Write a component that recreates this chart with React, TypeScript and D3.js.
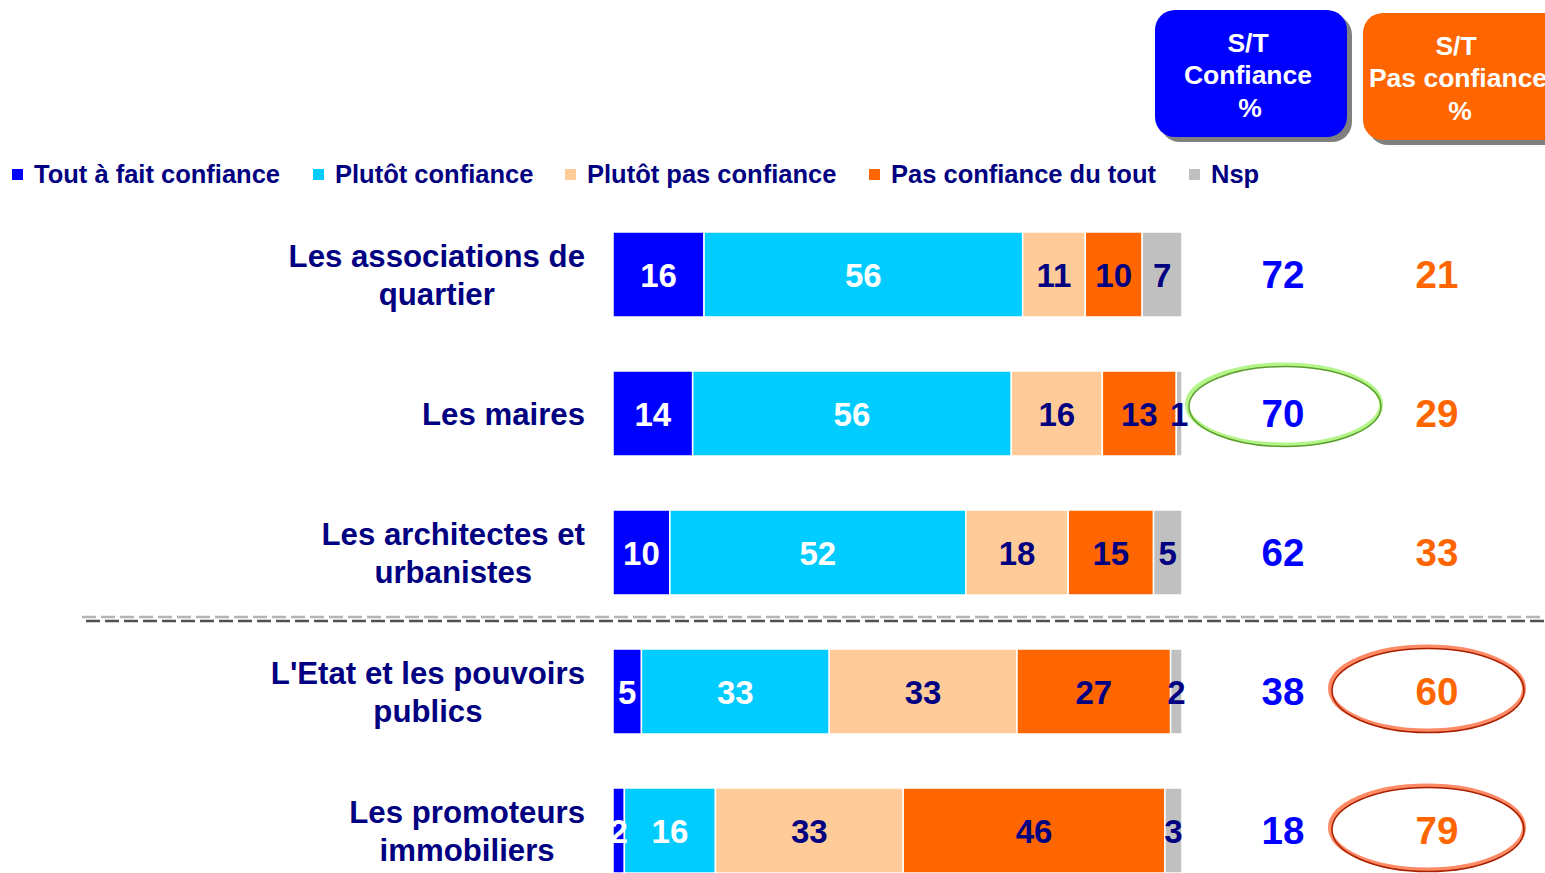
import * as d3 from 'd3'

const categories = [
  ['Les associations de', 'quartier'],
  ['Les maires'],
  ['Les architectes et', 'urbanistes'],
  ["L'Etat et les pouvoirs", 'publics'],
  ['Les promoteurs', 'immobiliers'],
]
const seriesNames = ['Tout à fait confiance', 'Plutôt confiance', 'Plutôt pas confiance', 'Pas confiance du tout', 'Nsp']
const toutAFait = [16, 14, 10, 5, 2]
const plutot = [56, 56, 52, 33, 16]
const plutotPas = [11, 16, 18, 33, 33]
const pasDuTout = [10, 13, 15, 27, 46]
const nsp = [7, 1, 5, 2, 3]
const stConfiance = [72, 70, 62, 38, 18]
const stPasConfiance = [21, 29, 33, 60, 79]
const circledConfiance = [false, true, false, false, false]
const circledPas = [false, false, false, true, true]

const colors = ['#0000FF', '#00CCFF', '#FFCC99', '#FF6600', '#C0C0C0']
const labelColors = ['#FFFFFF', '#FFFFFF', '#000080', '#000080', '#000080']
const NAVY = '#000080'
const FONT = '"Liberation Sans", Arial, sans-serif'
const CAT_SIZE = 31.2

// measure label width so multi-line labels can be centred on their longest line
let ctx: CanvasRenderingContext2D | null = null
function textWidth(s: string, size: number) {
  if (!ctx) ctx = document.createElement('canvas').getContext('2d')
  if (!ctx) return s.length * size * 0.55
  ctx.font = `bold ${size}px ${FONT}`
  return ctx.measureText(s).width
}

export default function App() {
  const width = 1545
  const height = 873
  const x = d3.scaleLinear().domain([0, 100]).range([613, 1182])
  const y = d3.scaleBand<number>()
    .domain(d3.range(categories.length))
    .range([232, 873])
    .paddingInner(0.3885)
    .paddingOuter(0)

  const rows = categories.map((_, i) => [toutAFait[i], plutot[i], plutotPas[i], pasDuTout[i], nsp[i]])
  const stacked = rows.map(r => {
    let acc = 0
    return r.map(v => {
      const s = acc
      acc += v
      return { v, x0: s, x1: acc }
    })
  })

  const bh = y.bandwidth()
  const sepY = (y(2)! + bh + y(3)!) / 2 - 5
  const colConf = 1283
  const colPas = 1437
  const legendX = [12, 313, 565, 869, 1189]

  return (
    <svg width={width} height={height} style={{ position: 'absolute', left: 0, top: 0 }} fontFamily={FONT}>
      <rect width={width} height={height} fill="#fff" />

      {/* header boxes */}
      <rect x={1160} y={15} width={192} height={127} rx={20} fill="#808080" />
      <rect x={1155} y={10} width={192} height={127} rx={20} fill="#0000FF" />
      <text fill="#fff" fontWeight="bold" fontSize={26.5} textAnchor="middle">
        <tspan x={1248} y={52}>S/T</tspan>
        <tspan x={1248} y={84}>Confiance</tspan>
        <tspan x={1250} y={117}>%</tspan>
      </text>
      <rect x={1368} y={18} width={200} height={127} rx={20} fill="#808080" />
      <rect x={1363} y={13} width={200} height={127} rx={20} fill="#FF6600" />
      <text fill="#fff" fontWeight="bold" fontSize={26.5} textAnchor="middle">
        <tspan x={1456} y={55}>S/T</tspan>
        <tspan x={1458} y={87}>Pas confiance</tspan>
        <tspan x={1460} y={120}>%</tspan>
      </text>

      {/* legend */}
      {seriesNames.map((n, i) => (
        <g key={n}>
          <rect x={legendX[i]} y={169} width={11} height={11} fill={colors[i]} />
          <text x={legendX[i] + 22} y={183} fontSize={25.5} fontWeight="bold" fill={NAVY}>{n}</text>
        </g>
      ))}

      {/* separator */}
      <line x1={82} x2={width} y1={sepY} y2={sepY} stroke="#b4b4b4" strokeWidth={2.5} strokeDasharray="14,5" />
      <line x1={86} x2={width} y1={sepY + 4} y2={sepY + 4} stroke="#505050" strokeWidth={2.5} strokeDasharray="14,5" />

      {stacked.map((segs, i) => {
        const top = y(i)!
        const cy = top + bh / 2
        const lines = categories[i]
        const maxW = d3.max(lines, l => textWidth(l, CAT_SIZE))!
        const lx = 585 - maxW / 2
        return (
          <g key={i}>
            {lines.map((l, j) => (
              <text key={j} x={lx} y={cy + 11.5 + (j - (lines.length - 1) / 2) * 38.5} textAnchor="middle"
                fontSize={CAT_SIZE} fontWeight="bold" fill={NAVY}>{l}</text>
            ))}
            {segs.map((s, k) => (
              <rect key={k} x={x(s.x0)} y={top} width={x(s.x1) - x(s.x0)} height={bh}
                fill={colors[k]} stroke="#fff" strokeWidth={1.5} />
            ))}
            {segs.map((s, k) => (
              <text key={'t' + k} x={(x(s.x0) + x(s.x1)) / 2} y={cy + 12.5} textAnchor="middle"
                fontSize={33} fontWeight="bold" fill={labelColors[k]}>{s.v}</text>
            ))}
            {circledConfiance[i] && (
              <g fill="none">
                <ellipse cx={colConf + 1} cy={cy - 9} rx={97} ry={40} stroke="#B4F58A" strokeWidth={4} />
                <ellipse cx={colConf + 2} cy={cy - 7} rx={96} ry={40} stroke="#5E9E2E" strokeWidth={1.5} />
              </g>
            )}
            {circledPas[i] && (
              <g fill="none">
                <ellipse cx={colPas - 10} cy={cy - 3} rx={97} ry={42} stroke="#FF8A66" strokeWidth={4} />
                <ellipse cx={colPas - 9} cy={cy - 1} rx={96} ry={42} stroke="#A82000" strokeWidth={1.5} />
              </g>
            )}
            <text x={colConf} y={cy + 13.5} textAnchor="middle" fontSize={38.5} fontWeight="bold" fill="#0000FF">{stConfiance[i]}</text>
            <text x={colPas} y={cy + 13.5} textAnchor="middle" fontSize={38.5} fontWeight="bold" fill="#FF6600">{stPasConfiance[i]}</text>
          </g>
        )
      })}
    </svg>
  )
}
